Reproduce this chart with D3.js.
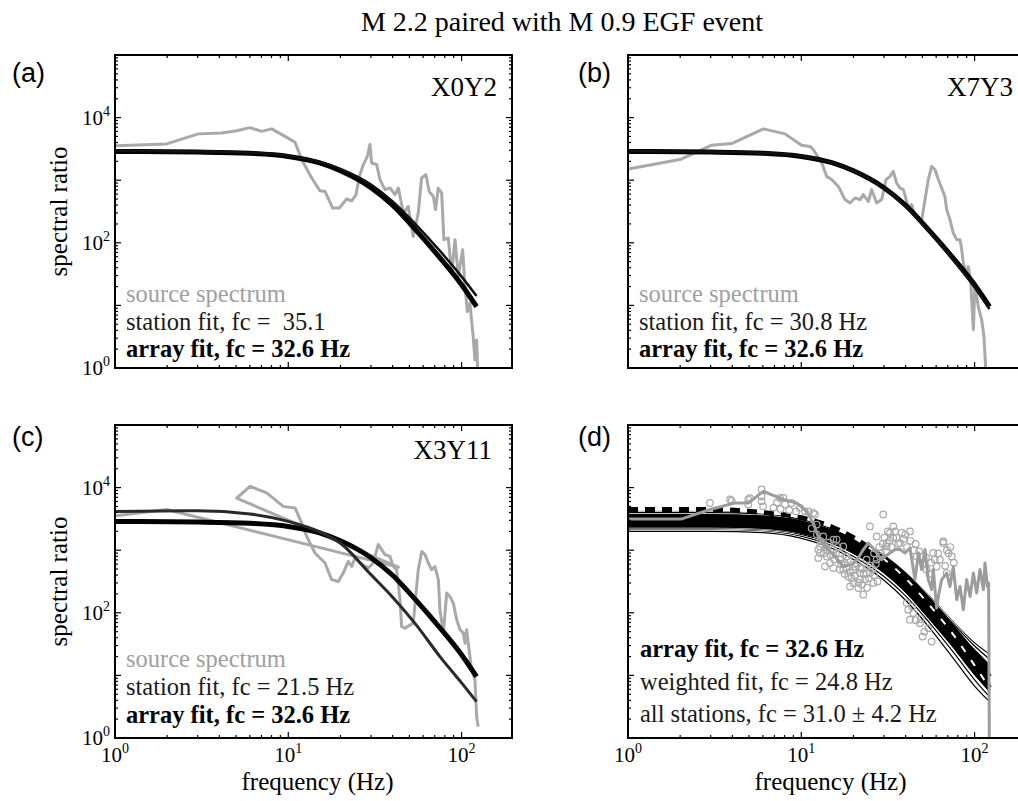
<!DOCTYPE html>
<html>
<head>
<meta charset="utf-8">
<script src="https://cdn.jsdelivr.net/npm/d3@7"></script>
<style>
body { margin: 0; background: #fff; }
svg { display: block; }
text { white-space: pre; font-family: "Liberation Serif", "Times New Roman", serif; }
</style>
</head>
<body>
<svg id="fig" width="1018" height="801"></svg>
<script>
// ---- data: frequencies in Hz for the fits, everything else as [log10 f, log10 ratio] ----
const fitFreq = [1, 3, 6, 10, 15, 20, 30, 40, 55, 75, 100, 122];

// array fit, fc = 32.6 Hz (same curve in every panel), log10 ratio
const arrayFit = [3.46, 3.45, 3.43, 3.38, 3.28, 3.15, 2.88, 2.60, 2.19, 1.76, 1.33, 0.98];
// single-station fits
const stationFitA = [3.47, 3.46, 3.44, 3.39, 3.30, 3.18, 2.93, 2.66, 2.28, 1.87, 1.46, 1.15];
const stationFitB = [3.465, 3.455, 3.435, 3.385, 3.28, 3.15, 2.87, 2.58, 2.17, 1.73, 1.29, 0.94];
const stationFitC = [3.62, 3.63, 3.58, 3.46, 3.30, 3.11, 2.61, 2.25, 1.80, 1.30, 0.88, 0.58];
// panel (d): weighted fit and the spread of all station fits
const weightedFit = [3.65, 3.65, 3.60, 3.52, 3.37, 3.20, 2.86, 2.55, 2.12, 1.66, 1.16, 0.80];
const bandUpper = [3.58, 3.58, 3.56, 3.48, 3.33, 3.17, 2.88, 2.59, 2.20, 1.79, 1.42, 1.18];
const bandLower = [3.36, 3.36, 3.34, 3.26, 3.11, 2.94, 2.63, 2.32, 1.89, 1.44, 1.00, 0.74];
const edgeStationFits = [
  [3.62, 3.62, 3.60, 3.51, 3.35, 3.19, 2.91, 2.63, 2.26, 1.86, 1.52, 1.34],
  [3.60, 3.60, 3.58, 3.49, 3.34, 3.18, 2.89, 2.61, 2.23, 1.83, 1.47, 1.26],
  [3.34, 3.34, 3.32, 3.25, 3.11, 2.95, 2.64, 2.33, 1.90, 1.46, 1.02, 0.74],
  [3.32, 3.32, 3.30, 3.22, 3.07, 2.90, 2.58, 2.27, 1.84, 1.38, 0.93, 0.66],
  [3.30, 3.30, 3.28, 3.19, 3.03, 2.85, 2.52, 2.20, 1.76, 1.28, 0.83, 0.58]
];
const innerStationFits = [
  [3.54, 3.54, 3.52, 3.44, 3.30, 3.14, 2.85, 2.56, 2.16, 1.74, 1.36, 1.10],
  [3.40, 3.40, 3.38, 3.32, 3.20, 3.06, 2.78, 2.49, 2.08, 1.66, 1.26, 0.98]
];

// source spectra (gray)
const srcA = [[0.006,3.55],[0.298,3.58],[0.481,3.74],[0.616,3.755],[0.702,3.79],[0.779,3.84],[0.846,3.78],
  [0.904,3.82],[0.981,3.70],[1.039,3.605],[1.077,3.33],[1.135,3.035],[1.183,2.83],[1.212,2.82],[1.256,2.555],
  [1.294,2.555],[1.337,2.70],[1.366,2.67],[1.391,2.77],[1.41,3.06],[1.429,3.22],[1.456,3.38],[1.471,3.57],
  [1.481,3.275],[1.51,3.25],[1.529,3.01],[1.558,2.85],[1.587,2.875],[1.616,2.77],[1.635,2.875],[1.664,2.475],
  [1.692,2.58],[1.721,2.10],[1.75,2.475],[1.769,3.035],[1.794,3.09],[1.813,2.82],[1.837,2.74],[1.85,2.53],
  [1.865,2.875],[1.885,2.795],[1.898,2.05],[1.923,2.075],[1.943,1.515],[1.962,2.05],[1.981,1.46],[2.006,1.89],
  [2.02,1.30],[2.033,0.90],[2.048,1.035],[2.067,0.50],[2.077,0.128],[2.087,0.448],[2.096,-0.3]];
const srcB = [[0.002,3.18],[0.30,3.33],[0.483,3.56],[0.598,3.585],[0.781,3.82],[0.906,3.74],[1.002,3.56],
  [1.05,3.54],[1.069,3.49],[1.118,3.275],[1.147,3.06],[1.175,3.01],[1.214,2.90],[1.252,2.69],[1.281,2.635],
  [1.31,2.715],[1.339,2.69],[1.358,2.77],[1.387,2.66],[1.406,2.85],[1.435,2.635],[1.464,2.69],[1.489,3.01],
  [1.512,3.06],[1.531,3.14],[1.55,2.955],[1.57,2.875],[1.589,2.85],[1.608,2.66],[1.627,2.53],[1.637,2.61],
  [1.656,2.42],[1.675,2.37],[1.695,2.37],[1.714,2.69],[1.733,3.01],[1.752,3.22],[1.771,3.17],[1.791,3.01],
  [1.81,2.875],[1.829,2.74],[1.839,2.53],[1.858,2.37],[1.877,2.155],[1.897,2.05],[1.916,2.05],[1.926,1.89],
  [1.935,1.675],[1.954,1.515],[1.964,1.62],[1.977,1.41],[1.993,0.61],[2.002,1.355],[2.021,0.98],[2.041,0.77],
  [2.054,0.50],[2.07,-0.3]];
const srcC = [[0.006,3.55],[0.298,3.65],[1.635,2.73],[0.702,3.83],[0.779,4.02],[0.875,3.915],[0.971,3.70],
  [1.039,3.675],[1.077,3.435],[1.106,3.22],[1.154,2.955],[1.212,2.795],[1.25,2.53],[1.289,2.50],[1.317,2.635],
  [1.346,2.82],[1.366,2.74],[1.385,2.875],[1.414,2.795],[1.462,2.715],[1.49,2.795],[1.519,3.09],[1.539,3.01],
  [1.558,2.93],[1.587,2.90],[1.606,2.74],[1.625,2.69],[1.645,2.21],[1.654,1.78],[1.673,1.755],[1.721,1.835],
  [1.75,2.69],[1.77,2.98],[1.789,2.93],[1.808,2.795],[1.827,2.69],[1.846,2.74],[1.866,2.53],[1.875,2.05],
  [1.895,1.675],[1.914,2.315],[1.933,2.26],[1.952,2.155],[1.972,1.89],[1.991,1.73],[2.01,1.675],[2.02,1.515],
  [2.029,1.73],[2.048,1.30],[2.058,1.09],[2.077,0.93],[2.087,0.34],[2.096,0.18]];
const srcD = [[0.002,3.50],[0.31,3.50],[0.473,3.65],[0.617,3.755],[0.694,3.755],[0.781,3.94],[0.896,3.81],
  [0.973,3.755],[1.031,3.62],[1.069,3.435],[1.098,3.22],[1.137,3.06],[1.185,2.93],[1.242,2.74],[1.29,2.77],
  [1.329,2.875],[1.358,3.01],[1.387,3.115],[1.406,3.06],[1.435,2.955],[1.464,2.85],[1.483,2.90],[1.512,2.955],
  [1.541,3.01],[1.57,3.01],[1.599,2.955],[1.627,3.035],[1.656,2.53],[1.676,2.955],[1.695,2.69],[1.714,3.01],
  [1.733,2.53],[1.752,2.37],[1.762,2.69],[1.781,2.075],[1.791,2.26],[1.81,2.53],[1.839,2.635],[1.858,2.42],
  [1.877,2.74],[1.897,2.21],[1.916,2.42],[1.935,2.05],[1.954,2.53],[1.974,2.26],[1.993,2.635],[2.012,2.315],
  [2.031,2.69],[2.051,2.37],[2.06,2.795],[2.074,2.42],[2.081,2.475],[2.085,0.02],[2.086,-0.3]];

// panel (d) individual spectral ratio samples (circles)
const samplesD = [[0.473,3.755],[0.589,3.81],[0.598,3.79],[0.694,3.81],[0.694,3.73],[0.704,3.83],[0.771,3.97],
  [0.771,3.86],[0.771,3.78],[0.78,3.70],[0.84,3.68],[0.86,3.76],[0.877,3.835],[0.88,3.66],[0.896,3.835],
  [0.906,3.73],[0.93,3.64],[0.945,3.755],[0.97,3.62],[0.992,3.675],[1.021,3.62],[1.04,3.62],[1.069,3.595],
  [1.079,3.57],[1.089,3.41],[1.06,3.35],[1.09,3.25],[1.098,3.01],[1.098,2.875],[1.108,3.06],[1.108,2.955],
  [1.11,3.15],[1.12,3.10],[1.127,3.22],[1.13,2.95],[1.137,2.74],[1.14,3.05],[1.147,2.90],[1.15,3.00],
  [1.16,3.12],[1.166,2.795],[1.17,2.92],[1.185,3.01],[1.185,2.715],[1.185,3.17],[1.19,2.85],[1.2,2.95],
  [1.204,3.17],[1.21,3.05],[1.22,2.95],[1.223,2.85],[1.223,2.69],[1.23,2.78],[1.242,2.69],[1.242,3.06],
  [1.25,2.62],[1.25,2.80],[1.26,2.72],[1.262,2.90],[1.27,2.85],[1.271,2.58],[1.28,2.65],[1.281,2.42],
  [1.29,2.55],[1.30,2.475],[1.30,2.68],[1.31,2.74],[1.31,2.60],[1.32,2.795],[1.329,2.395],[1.33,2.48],
  [1.339,2.635],[1.339,2.53],[1.34,2.72],[1.35,2.45],[1.35,2.70],[1.358,2.29],[1.36,2.62],[1.368,2.53],
  [1.377,2.85],[1.377,2.635],[1.38,2.40],[1.39,2.55],[1.396,2.635],[1.396,3.38],[1.40,2.75],[1.41,2.70],
  [1.416,2.475],[1.42,2.95],[1.42,2.60],[1.43,2.78],[1.435,2.85],[1.435,3.22],[1.44,2.50],[1.45,3.05],
  [1.454,2.90],[1.46,2.95],[1.47,3.10],[1.473,3.57],[1.48,3.20],[1.49,2.98],[1.493,3.115],[1.493,3.06],
  [1.50,3.30],[1.51,3.15],[1.512,3.275],[1.52,3.05],[1.53,3.20],[1.531,3.38],[1.541,3.30],[1.55,3.20],
  [1.56,3.10],[1.57,3.115],[1.58,3.28],[1.59,3.18],[1.60,3.25],[1.608,2.155],[1.61,3.05],[1.617,2.05],
  [1.627,1.89],[1.627,3.30],[1.63,3.15],[1.64,2.10],[1.646,1.995],[1.65,3.00],[1.66,1.88],[1.66,3.10],
  [1.666,2.90],[1.68,2.98],[1.685,1.835],[1.69,1.90],[1.70,2.90],[1.70,1.62],[1.704,2.795],[1.71,1.70],
  [1.72,2.88],[1.723,2.69],[1.733,1.755],[1.74,2.62],[1.75,2.80],[1.752,1.54],[1.762,2.955],[1.77,2.85],
  [1.781,2.74],[1.79,2.95],[1.80,2.85],[1.819,3.115],[1.82,3.14],[1.83,2.75],[1.839,2.635],[1.84,3.00],
  [1.85,2.95],[1.86,3.05],[1.868,2.90],[1.88,2.80]];

const legendABC = {
  a: ["source spectrum", "station fit, fc =  35.1", "array fit, fc = 32.6 Hz"],
  b: ["source spectrum", "station fit, fc = 30.8 Hz", "array fit, fc = 32.6 Hz"],
  c: ["source spectrum", "station fit, fc = 21.5 Hz", "array fit, fc = 32.6 Hz"]
};
const legendD = ["array fit, fc = 32.6 Hz", "weighted fit, fc = 24.8 Hz", "all stations, fc = 31.0 \u00b1 4.2 Hz"];
const stationNames = { a: "X0Y2", b: "X7Y3", c: "X3Y11" };
const xTickLabels = [0, 1, 2];
const yTickLabels = [0, 2, 4];

// ---- layout ----
const svg = d3.select("#fig");
const colX = [115, 628], rowY = [55, 425];
const plotW = 397, plotH = 313;
const grayCol = "#a9a9a9";

svg.append("rect").attr("width", 1018).attr("height", 801).attr("fill", "#fff");

svg.append("text")
    .attr("x", 562).attr("y", 31)
    .attr("text-anchor", "middle")
    .attr("font-size", 28)
    .text("M 2.2 paired with M 0.9 EGF event");

const panels = [
    { id: "a", col: 0, row: 0, legendY: [66, 38, 11], nameX: 382, nameY: 41 },
    { id: "b", col: 1, row: 0, legendY: [66, 38, 11], nameX: 385, nameY: 41 },
    { id: "c", col: 0, row: 1, legendY: [71, 43, 15], nameX: 377, nameY: 34 },
    { id: "d", col: 1, row: 1, legendY: [81, 48, 16] }
];

const isMajor = t => Math.abs(Math.log10(t) - Math.round(Math.log10(t))) < 1e-6;

panels.forEach(p => {
    const x0 = colX[p.col], y0 = rowY[p.row];
    const x = d3.scaleLog().domain([1, 195.4]).range([x0, x0 + plotW]);
    const y = d3.scaleLog().domain([1, 1e5]).range([y0 + plotH, y0]);
    const g = svg.append("g");

    svg.append("clipPath").attr("id", "clip-" + p.id)
        .append("rect").attr("x", x0).attr("y", y0).attr("width", plotW).attr("height", plotH);
    const plot = g.append("g").attr("clip-path", `url(#clip-${p.id})`);

    // [log f, log r] pairs
    const logLine = d3.line().x(d => x(10 ** d[0])).y(d => y(10 ** d[1]));
    // fit arrays on the common frequency grid
    const fitLine = d3.line().x((d, i) => x(fitFreq[i])).y(d => y(10 ** d)).curve(d3.curveMonotoneX);

    if (p.id !== "d") {
        const src = { a: srcA, b: srcB, c: srcC }[p.id];
        const sfit = { a: stationFitA, b: stationFitB, c: stationFitC }[p.id];
        plot.append("path").attr("d", logLine(src))
            .attr("fill", "none").attr("stroke", grayCol).attr("stroke-width", 3)
            .attr("stroke-linejoin", "round");
        plot.append("path").attr("d", fitLine(arrayFit))
            .attr("fill", "none").attr("stroke", "#000").attr("stroke-width", 5);
        plot.append("path").attr("d", fitLine(sfit))
            .attr("fill", "none").attr("stroke", p.id === "c" ? "#2a2a2a" : "#111")
            .attr("stroke-width", p.id === "c" ? 3 : 2.5);

        const lg = g.append("g").attr("font-size", 24.5);
        legendABC[p.id].forEach((t, i) => {
            lg.append("text")
                .attr("x", x0 + 11).attr("y", y0 + plotH - p.legendY[i])
                .attr("fill", i === 0 ? "#a0a0a0" : (i === 1 ? "#1a1a1a" : "#000"))
                .attr("font-weight", i === 2 ? "bold" : "normal")
                .text(t);
        });
        g.append("text")
            .attr("x", x0 + p.nameX).attr("y", y0 + p.nameY)
            .attr("text-anchor", "end").attr("font-size", 27)
            .text(stationNames[p.id]);
    } else {
        // outer station fits: thin black with a white edge
        edgeStationFits.forEach(s => {
            plot.append("path").attr("d", fitLine(s))
                .attr("fill", "none").attr("stroke", "#fff").attr("stroke-width", 2.6);
            plot.append("path").attr("d", fitLine(s))
                .attr("fill", "none").attr("stroke", "#000").attr("stroke-width", 1.2);
        });
        // dense core of the station fits
        const band = d3.area()
            .x((d, i) => x(fitFreq[i]))
            .y0((d, i) => y(10 ** bandLower[i]))
            .y1(d => y(10 ** d))
            .curve(d3.curveMonotoneX);
        plot.append("path").attr("d", band(bandUpper)).attr("fill", "#000");
        innerStationFits.forEach(s => {
            plot.append("path").attr("d", fitLine(s))
                .attr("fill", "none").attr("stroke", "#000").attr("stroke-width", 1.2);
        });
        plot.append("path").attr("d", fitLine(arrayFit))
            .attr("fill", "none").attr("stroke", "#000").attr("stroke-width", 5);
        plot.append("path").attr("d", fitLine(weightedFit))
            .attr("fill", "none").attr("stroke", "#fff").attr("stroke-width", 2);
        plot.append("path").attr("d", fitLine(weightedFit))
            .attr("fill", "none").attr("stroke", "#000").attr("stroke-width", 5)
            .attr("stroke-dasharray", "10,7");

        plot.selectAll("circle.s").data(samplesD).join("circle")
            .attr("cx", d => x(10 ** d[0])).attr("cy", d => y(10 ** d[1]))
            .attr("r", 3.3).attr("fill", "none")
            .attr("stroke", grayCol).attr("stroke-width", 1.2);
        plot.append("path").attr("d", logLine(srcD))
            .attr("fill", "none").attr("stroke", "#9c9c9c").attr("stroke-width", 3)
            .attr("stroke-linejoin", "round");

        const lg = g.append("g").attr("font-size", 24.5);
        legendD.forEach((t, i) => {
            lg.append("text")
                .attr("x", x0 + 12).attr("y", y0 + plotH - p.legendY[i])
                .attr("fill", i === 0 ? "#000" : "#1a1a1a")
                .attr("font-weight", i === 0 ? "bold" : "normal")
                .text(t);
        });
    }

    // ticks on all four sides, pointing inwards
    const ax = g.append("g").attr("stroke", "#000").attr("stroke-width", 1.2);
    x.ticks().forEach(t => {
        const len = isMajor(t) ? 6 : 3;
        const px = x(t);
        ax.append("line").attr("x1", px).attr("x2", px).attr("y1", y0 + plotH).attr("y2", y0 + plotH - len);
        ax.append("line").attr("x1", px).attr("x2", px).attr("y1", y0).attr("y2", y0 + len);
    });
    y.ticks().forEach(t => {
        const len = isMajor(t) ? 6 : 3;
        const py = y(t);
        ax.append("line").attr("x1", x0).attr("x2", x0 + len).attr("y1", py).attr("y2", py);
        ax.append("line").attr("x1", x0 + plotW).attr("x2", x0 + plotW - len).attr("y1", py).attr("y2", py);
    });

    g.append("rect")
        .attr("x", x0).attr("y", y0).attr("width", plotW).attr("height", plotH)
        .attr("fill", "none").attr("stroke", "#000").attr("stroke-width", 2);

    // tick labels
    if (p.row === 1) {
        xTickLabels.forEach(e => {
            const t = g.append("text")
                .attr("x", x(10 ** e)).attr("y", y0 + plotH + 24)
                .attr("text-anchor", "middle").attr("font-size", 21);
            t.append("tspan").text("10");
            t.append("tspan").attr("font-size", 14).attr("dy", -9).text(e);
        });
        g.append("text")
            .attr("x", x0 + plotW / 2 + 4).attr("y", y0 + plotH + 52)
            .attr("text-anchor", "middle").attr("font-size", 25)
            .text("frequency (Hz)");
    }
    if (p.col === 0) {
        yTickLabels.forEach(e => {
            const t = g.append("text")
                .attr("x", x0 - 5).attr("y", y(10 ** e) + 7)
                .attr("text-anchor", "end").attr("font-size", 21);
            t.append("tspan").text("10");
            t.append("tspan").attr("font-size", 14).attr("dy", -9).text(e);
        });
        g.append("text")
            .attr("transform", `translate(67,${y0 + plotH / 2}) rotate(-90)`)
            .attr("text-anchor", "middle").attr("font-size", 25)
            .text("spectral ratio");
    }

    // panel letter
    g.append("text")
        .attr("x", p.col === 0 ? 12 : 578).attr("y", y0 + (p.row === 0 ? 27 : 21))
        .style("font-family", "'Liberation Sans', Arial, sans-serif")
        .attr("font-size", 27)
        .text(`(${p.id})`);
});
</script>
</body>
</html>
